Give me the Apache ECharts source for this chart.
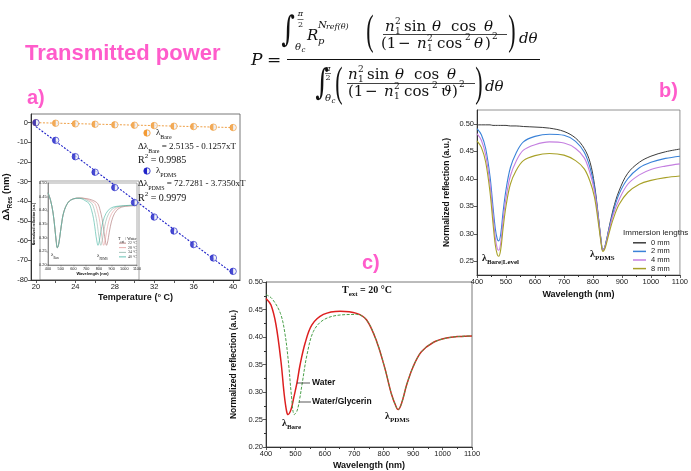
<!DOCTYPE html>
<html><head><meta charset="utf-8">
<script src="https://cdn.jsdelivr.net/npm/echarts@6/dist/echarts.min.js"></script>
<style>html,body{margin:0;padding:0;background:#fff}#c{width:691px;height:471px}</style>
</head><body><div id="c"></div>
<script>
// ---------- DATA ----------
// panel a: resonance shift vs temperature
const temps = [20,22,24,26,28,30,32,34,36,38,40];
const bareShift = [0,-0.3,-0.6,-0.8,-1.1,-1.3,-1.5,-1.8,-2.0,-2.3,-2.5];
const pdmsShift = [0,-9,-17.3,-25.2,-33,-40.6,-48,-55.1,-62,-68.8,-75.6];
const fitT = [20,40];
const bareFit = [0.0,-2.5];
const pdmsFit = [-2.0,-76.7];
const tempLabels = [20,24,28,32,36,40];
const tempTickVals = [20,22,24,26,28,30,32,34,36,38,40];
const shiftLabels = [-80,-70,-60,-50,-40,-30,-20,-10,0];
// inset of panel a: spectra at several temperatures
const inset22Wl = [400,420,440,455,465,473,482,492,505,525,560,600,650,700,750,790,810,825,835,845,853,860,867,875,890,910,940,980,1040,1100];
const inset22 = [.464,.437,.39,.33,.285,.263,.272,.30,.345,.395,.43,.442,.445,.443,.437,.425,.40,.37,.34,.305,.283,.272,.28,.30,.34,.375,.40,.412,.416,.417];
const inset28Wl = [400,420,440,455,465,473,482,492,505,525,560,600,650,700,730,768,788,803,813,823,831,838,845,853,868,888,918,958,1018,1100];
const inset28 = [.464,.437,.39,.33,.285,.263,.272,.30,.345,.395,.43,.442,.445,.442,.436,.425,.40,.37,.34,.305,.283,.272,.28,.30,.34,.375,.40,.412,.416,.418];
const inset34Wl = [400,420,440,455,465,473,482,492,505,525,560,600,650,680,710,745,765,780,790,800,808,815,822,830,845,865,895,935,995,1100];
const inset34 = [.464,.437,.39,.33,.285,.263,.272,.30,.345,.395,.43,.442,.445,.443,.436,.425,.40,.37,.34,.305,.283,.272,.28,.30,.34,.375,.40,.412,.416,.419];
const inset40Wl = [400,420,440,455,465,473,482,492,505,525,560,600,630,660,690,723,743,758,768,778,786,793,800,808,823,843,873,913,973,1100];
const inset40 = [.464,.437,.39,.33,.285,.263,.272,.30,.345,.395,.43,.442,.444,.443,.436,.425,.40,.37,.34,.305,.283,.272,.28,.30,.34,.375,.40,.412,.416,.42];
const insetNames = ['22 °C','28 °C','34 °C','40 °C'];
// panel b: immersion lengths
const wlB = [400,415,430,445,455,463,470,475,482,490,500,515,535,560,600,650,700,740,770,790,805,818,828,834,842,855,870,890,920,960,1000,1050,1100];
const b0mm = [.498,.498,.498,.498,.497,.497,.497,.497,.497,.497,.497,.496,.496,.495,.494,.492,.486,.474,.455,.43,.39,.335,.288,.270,.278,.31,.345,.378,.41,.43,.441,.449,.454];
const b2mm = [.491,.48,.455,.404,.35,.31,.29,.287,.30,.34,.38,.42,.447,.467,.477,.481,.479,.468,.448,.42,.385,.332,.287,.270,.278,.308,.34,.372,.40,.42,.43,.437,.441];
const b4mm = [.482,.47,.443,.39,.335,.293,.273,.270,.284,.325,.365,.405,.432,.452,.462,.467,.465,.455,.438,.41,.378,.33,.286,.270,.277,.305,.335,.362,.39,.407,.417,.423,.427];
const b8mm = [.469,.457,.43,.375,.32,.28,.262,.259,.272,.31,.35,.39,.415,.433,.442,.446,.443,.433,.418,.395,.367,.322,.283,.268,.274,.30,.327,.353,.375,.39,.397,.402,.405];
const immersionNames = ['0 mm','2 mm','4 mm','8 mm'];
// panel c: water vs water/glycerin
const waterWl = [400,417,434,451,462,470,475,485,494,505,516,533,556,595,652,708,742,776,804,827,844,849,861,878,900,928,968,1013,1058,1100];
const waterR = [.470,.458,.422,.355,.295,.265,.259,.268,.289,.316,.35,.389,.422,.441,.447,.443,.431,.392,.343,.295,.271,.268,.28,.313,.346,.373,.39,.398,.401,.402];
const glyWl = [400,420,449,465,477,486,496,505,513,524,539,561,595,652,708,742,776,804,827,844,849,861,878,900,928,968,1013,1058,1100];
const glyR = [.477,.47,.443,.404,.35,.296,.259,.265,.283,.319,.367,.41,.431,.44,.441,.431,.392,.343,.295,.271,.268,.28,.313,.346,.373,.39,.398,.401,.402];
const reflLabelsB = [0.25,0.30,0.35,0.40,0.45,0.50];

// ---------- STYLE ----------
const PINK = '#ff5ccb';
const SANS = 'Liberation Sans';
const SERIF = 'Liberation Serif';
const MATH = 'DejaVu Serif';
const zip = (xs, ys) => xs.map((x, i) => [x, ys[i]]);

function axis(o, fs) {
  const base = {
    type: 'value', nameLocation: 'middle',
    axisLine: {show: true, onZero: false, lineStyle: {color: '#333', width: 1}},
    axisTick: {show: true, length: 3, lineStyle: {color: '#333', width: 0.8}},
    splitLine: {show: false},
    axisLabel: {fontSize: fs, color: '#222', fontFamily: SANS, margin: 3, formatter: v => String(v)},
    nameTextStyle: {fontFamily: SANS, fontWeight: 'bold', fontSize: 9, color: '#111'}
  };
  for (const k in o) {
    if (base[k] && typeof base[k] === 'object' && !Array.isArray(base[k]) && typeof o[k] === 'object' && !Array.isArray(o[k])) base[k] = Object.assign({}, base[k], o[k]);
    else base[k] = o[k];
  }
  return base;
}
const fmt2 = v => v.toFixed(2);
const HALF = 'path://M10,0 A10,10 0 0 0 10,20 Z';

function markers(name, data, color, z) {
  return [
    {type: 'scatter', name, xAxisIndex: 0, yAxisIndex: 0, data, symbol: 'circle', symbolSize: 6.5,
      itemStyle: {color: '#eef0f6', borderColor: color, borderWidth: 0.8}, z: z, silent: true},
    {type: 'scatter', name, xAxisIndex: 0, yAxisIndex: 0, data, symbol: HALF, symbolSize: [3.25, 6.5], symbolOffset: [-1.6, 0],
      itemStyle: {color: color}, z: z + 1, silent: true}
  ];
}
function line(name, xi, data, color, width, extra) {
  return Object.assign({type: 'line', name, xAxisIndex: xi, yAxisIndex: xi, data, symbol: 'none', smooth: 0.35,
    lineStyle: {color, width}, itemStyle: {color}, z: 3, silent: true}, extra || {});
}

// graphic helpers
function tx(x, y, text, size, italic, extra, fam, props) {
  return Object.assign({type: 'text', x, y, z: 100, silent: true,
    style: Object.assign({text, font: (italic ? 'italic ' : '') + size + 'px "' + (fam || MATH) + '"', fill: '#111',
      textAlign: 'left', textVerticalAlign: 'middle'}, extra || {})}, props || {});
}
function paren(x, y, ch) { return tx(x, y, ch, 22, false, {textAlign: 'center'}, SERIF, {scaleY: 1.9}); }
function integral(x, y) { return tx(x, y, '∫', 26, false, {textAlign: 'center'}, MATH, {scaleY: 1.35}); }
function rtx(x, y, text, rich, extra) {
  return {type: 'text', x, y, z: 100, silent: true,
    style: Object.assign({text, rich, fill: '#111', textAlign: 'left', textVerticalAlign: 'middle'}, extra || {})};
}
function seg(x1, y1, x2, y2, w, c) {
  return {type: 'line', z: 100, silent: true, shape: {x1, y1, x2, y2}, style: {stroke: c || '#111', lineWidth: w || 1}};
}
function serifRich(fs, bold) {
  const w = bold ? 'bold' : 'normal';
  return {
    n: {fontFamily: SERIF, fontSize: fs, fontWeight: w, color: '#111', lineHeight: fs + 5, verticalAlign: 'middle'},
    s: {fontFamily: SERIF, fontSize: Math.round(fs * 0.68), fontWeight: w, color: '#111', lineHeight: fs + 5, verticalAlign: 'bottom'},
    p: {fontFamily: SERIF, fontSize: Math.round(fs * 0.68), fontWeight: w, color: '#111', lineHeight: fs + 5, verticalAlign: 'top'}
  };
}

const graphics = [
  // headings
  {type: 'text', x: 25, y: 54, z: 100, style: {text: 'Transmitted power', font: 'bold 22px "' + SANS + '"', fill: PINK, textVerticalAlign: 'middle'}},
  {type: 'text', x: 27, y: 98, z: 100, style: {text: 'a)', font: 'bold 20px "' + SANS + '"', fill: PINK, textVerticalAlign: 'middle'}},
  {type: 'text', x: 659, y: 91, z: 100, style: {text: 'b)', font: 'bold 20px "' + SANS + '"', fill: PINK, textVerticalAlign: 'middle'}},
  {type: 'text', x: 362, y: 263, z: 100, style: {text: 'c)', font: 'bold 20px "' + SANS + '"', fill: PINK, textVerticalAlign: 'middle'}},
  // formula: P =
  tx(251, 61, 'P', 17, true), tx(267, 61, '=', 17, false),
  seg(287, 59.5, 540, 59.5, 1),
  // numerator
  integral(288, 32),
  tx(300.5, 14, 'π', 8, true, {textAlign: 'center'}), seg(297.5, 19.5, 303.5, 19.5, 0.6), tx(300.5, 24.5, '2', 8, false, {textAlign: 'center'}),
  tx(295, 47, 'θ', 10, true), tx(301.5, 50, 'c', 7, true),
  tx(307, 36, 'R', 15, true), tx(318, 41, 'p', 10, true),
  tx(318, 25, 'N', 10, true), tx(326, 27, 'ref(θ)', 8, true),
  paren(370, 33, '('),
  tx(385, 27, 'n', 15, true), tx(395, 22, '2', 9), tx(395, 32, '1', 9),
  tx(404, 27, 'sin', 15), tx(432, 27, 'θ', 15, true), tx(451, 27, 'cos', 15), tx(484, 27, 'θ', 15, true),
  seg(383, 34.5, 507, 34.5, 0.8),
  tx(381, 44, '(1', 15), tx(398, 44, '−', 15), tx(417, 44, 'n', 15, true), tx(427, 39, '2', 9), tx(427, 49, '1', 9),
  tx(437, 44, 'cos', 15), tx(465, 38, '2', 9), tx(474, 44, 'θ', 15, true), tx(485, 44, ')', 15), tx(492, 37, '2', 9),
  paren(512, 33, ')'),
  tx(519, 39, 'dθ', 15, true),
  // denominator
  integral(322, 85),
  tx(328, 69, 'π', 8, true, {textAlign: 'center'}), seg(325, 73.5, 331, 73.5, 0.6), tx(328, 78, '2', 8, false, {textAlign: 'center'}),
  tx(325, 98, 'θ', 10, true), tx(331.5, 101, 'c', 7, true),
  paren(339, 85, '('),
  tx(348, 75, 'n', 15, true), tx(358, 70, '2', 9), tx(358, 80, '1', 9),
  tx(367, 75, 'sin', 15), tx(395, 75, 'θ', 15, true), tx(414, 75, 'cos', 15), tx(447, 75, 'θ', 15, true),
  seg(347, 83.5, 475, 83.5, 0.8),
  tx(348, 92, '(1', 15), tx(365, 92, '−', 15), tx(384, 92, 'n', 15, true), tx(394, 87, '2', 9), tx(394, 97, '1', 9),
  tx(404, 92, 'cos', 15), tx(432, 86, '2', 9), tx(441, 92, 'ϑ', 15, true), tx(452, 92, ')', 15), tx(459, 85, '2', 9),
  paren(479, 85, ')'),
  tx(485, 87, 'dθ', 15, true),

  // panel a annotations
  {type: 'circle', z: 100, shape: {cx: 147, cy: 133, r: 3.2}, style: {fill: '#eef0f6', stroke: '#f39a33', lineWidth: 0.8}},
  {type: 'sector', z: 101, shape: {cx: 147, cy: 133, r: 3.2, r0: 0, startAngle: Math.PI / 2, endAngle: Math.PI * 1.5}, style: {fill: '#f39a33'}},
  rtx(156, 133, '{n|λ}{s|Bare}', serifRich(9)),
  rtx(138, 147, '{n|Δλ}{s|Bare}{n| = 2.5135 - 0.1257xT}', serifRich(9)),
  rtx(138, 160, '{n|R}{p|2}{n| = 0.9985}', serifRich(10)),
  {type: 'circle', z: 100, shape: {cx: 147, cy: 171, r: 3.2}, style: {fill: '#eef0f6', stroke: '#1f22c8', lineWidth: 0.8}},
  {type: 'sector', z: 101, shape: {cx: 147, cy: 171, r: 3.2, r0: 0, startAngle: Math.PI / 2, endAngle: Math.PI * 1.5}, style: {fill: '#1f22c8'}},
  rtx(156, 171, '{n|λ}{s|PDMS}', serifRich(9)),
  rtx(138, 184, '{n|Δλ}{s|PDMS}{n| = 72.7281 - 3.7350xT}', serifRich(9)),
  rtx(138, 198, '{n|R}{p|2}{n| = 0.9979}', serifRich(10)),
  // inset box and annotations
  {type: 'rect', z: 1, silent: true, shape: {x: 40, y: 181, width: 99, height: 99}, style: {fill: 'none', stroke: '#666', lineWidth: 0.6}},
  rtx(51, 255, '{n|λ}{s|Bare}', serifRich(5)),
  rtx(97, 256, '{n|λ}{s|PDMS}', serifRich(5)),
  rtx(118, 239, '{n|T}{s|ext}{n| / Water}', serifRich(4)),
  // panel b annotations
  rtx(482, 258, '{n|λ}{s|Bare|Level}', serifRich(10, true)),
  rtx(590, 254, '{n|λ}{s|PDMS}', serifRich(10, true)),
  {type: 'text', x: 623, y: 233, z: 100, style: {text: 'Immersion lengths', font: '8px "' + SANS + '"', fill: '#222', textVerticalAlign: 'middle'}},
  // panel c annotations
  rtx(367, 290, '{n|T}{s|ext}{n| = 20 °C}', serifRich(10, true), {textAlign: 'center'}),
  seg(297, 383, 310, 383, 0.7),
  {type: 'text', x: 312, y: 383, z: 100, style: {text: 'Water', font: 'bold 8.5px "' + SANS + '"', fill: '#111', textVerticalAlign: 'middle'}},
  seg(299, 402, 311, 402, 0.7),
  {type: 'text', x: 312, y: 402, z: 100, style: {text: 'Water/Glycerin', font: 'bold 8.5px "' + SANS + '"', fill: '#111', textVerticalAlign: 'middle'}},
  rtx(282, 423, '{n|λ}{s|Bare}', serifRich(10, true)),
  rtx(385, 416, '{n|λ}{s|PDMS}', serifRich(10, true))
];

const gridBorder = {show: true, borderColor: '#555', borderWidth: 0.8, backgroundColor: 'transparent'};
const option = {
  animation: false,
  backgroundColor: '#fff',
  grid: [
    Object.assign({left: 31, top: 114, width: 209, height: 166}, gridBorder),
    Object.assign({left: 48, top: 183, width: 89, height: 82}, gridBorder, {borderWidth: 0.5}),
    Object.assign({left: 477, top: 110, width: 207, height: 165}, gridBorder, {borderColor: '#777'}),
    Object.assign({left: 266, top: 282, width: 206, height: 166}, gridBorder)
  ],
  xAxis: [
    axis({gridIndex: 0, min: 19.5, max: 40.7, name: 'Temperature (° C)', nameGap: 13,
      axisLabel: {customValues: tempLabels}, axisTick: {customValues: tempTickVals}}, 7.5),
    axis({gridIndex: 1, min: 400, max: 1100, interval: 100, name: 'Wavelength (nm)', nameGap: 7, z: 3,
      axisLine: {lineStyle: {color: '#444', width: 0.5}}, axisTick: {length: 1.5, lineStyle: {width: 0.4}},
      axisLabel: {fontSize: 3.8, margin: 1.5},
      nameTextStyle: {fontSize: 4, fontWeight: 'bold'}}, 3.8),
    axis({gridIndex: 2, min: 400, max: 1100, interval: 100, name: 'Wavelength (nm)', nameGap: 15,
      minorTick: {show: true, splitNumber: 2, length: 2, lineStyle: {color: '#333'}}}, 7.5),
    axis({gridIndex: 3, min: 400, max: 1100, interval: 100, name: 'Wavelength (nm)', nameGap: 14,
      minorTick: {show: true, splitNumber: 2, length: 2, lineStyle: {color: '#333'}}}, 7.5)
  ],
  yAxis: [
    axis({gridIndex: 0, min: -80, max: 4.4, name: '{a|Δλ}{s|Res}{a| (nm)}', nameGap: 15,
      axisLabel: {customValues: shiftLabels}, axisTick: {customValues: shiftLabels},
      nameTextStyle: {rich: {
        a: {fontFamily: SANS, fontWeight: 'bold', fontSize: 9.5, lineHeight: 14, verticalAlign: 'middle', color: '#111'},
        s: {fontFamily: SANS, fontWeight: 'bold', fontSize: 6.5, lineHeight: 14, verticalAlign: 'bottom', color: '#111'}}}}, 7.5),
    axis({gridIndex: 1, min: 0.2, max: 0.5, interval: 0.05, name: 'Normalized reflection (a.u.)', nameGap: 5, z: 3,
      axisLine: {lineStyle: {color: '#444', width: 0.5}}, axisTick: {length: 1.5, lineStyle: {width: 0.4}},
      axisLabel: {fontSize: 3.8, margin: 1.5, formatter: fmt2},
      nameTextStyle: {fontSize: 3.3, fontWeight: 'bold'}}, 3.8),
    axis({gridIndex: 2, min: 0.225, max: 0.525, name: 'Normalized reflection (a.u.)', nameGap: 26,
      axisLabel: {customValues: reflLabelsB, formatter: fmt2}, axisTick: {customValues: reflLabelsB},
      nameTextStyle: {fontSize: 8.5}}, 7.5),
    axis({gridIndex: 3, min: 0.2, max: 0.5, interval: 0.05, name: 'Normalized reflection (a.u.)', nameGap: 28,
      axisLabel: {formatter: fmt2},
      minorTick: {show: true, splitNumber: 2, length: 2, lineStyle: {color: '#333'}},
      nameTextStyle: {fontSize: 8.5}}, 7.5)
  ],
  legend: [
    {data: immersionNames, orient: 'vertical', left: 633, top: 238.5, itemWidth: 13, itemHeight: 1.5, itemGap: 0,
      icon: 'rect', selectedMode: false, padding: 0,
      textStyle: {fontSize: 7.5, fontFamily: SANS, color: '#222', lineHeight: 8.6}},
    {data: insetNames, orient: 'vertical', left: 119, top: 240.8, itemWidth: 7, itemHeight: 0.8, itemGap: 0,
      icon: 'rect', selectedMode: false, padding: 0,
      textStyle: {fontSize: 3.8, fontFamily: SERIF, color: '#333', lineHeight: 4.6, padding: [0, 0, 0, -3]}}
  ],
  series: [
    // inset (drawn first)
    line('22 °C', 1, zip(inset22Wl, inset22), '#a86c6c', 0.6),
    line('28 °C', 1, zip(inset28Wl, inset28), '#e59a9a', 0.6),
    line('34 °C', 1, zip(inset34Wl, inset34), '#8fb3a8', 0.6),
    line('40 °C', 1, zip(inset40Wl, inset40), '#3fb3a0', 0.6),
    // panel a
    line('bareFit', 0, zip(fitT, bareFit), '#ef9f45', 1, {smooth: false, lineStyle: {color: '#ef9f45', width: 1, type: [2, 1.5]}, z: 4}),
    line('pdmsFit', 0, zip(fitT, pdmsFit), '#1f22c8', 1, {smooth: false, lineStyle: {color: '#1f22c8', width: 1.1, type: [2, 1.5]}, z: 4}),
    ...markers('λBare', zip(temps, bareShift), '#f39a33', 6),
    ...markers('λPDMS', zip(temps, pdmsShift), '#1f22c8', 6),
    // panel b
    line('0 mm', 2, zip(wlB, b0mm), '#3c3c3c', 1),
    line('2 mm', 2, zip(wlB, b2mm), '#3a82d8', 1.1),
    line('4 mm', 2, zip(wlB, b4mm), '#c47fe0', 1.1),
    line('8 mm', 2, zip(wlB, b8mm), '#a8a128', 1.1),
    // panel c
    line('Water', 3, zip(waterWl, waterR), '#dd1f1f', 1.5),
    line('Water/Glycerin', 3, zip(glyWl, glyR), '#4aa04a', 1, {lineStyle: {color: '#4aa04a', width: 1, type: [3, 1.5]}})
  ],
  graphic: {elements: graphics}
};
const chart = echarts.init(document.getElementById('c'), null, {renderer: 'canvas', width: 691, height: 471});
chart.setOption(option);
</script></body></html>
